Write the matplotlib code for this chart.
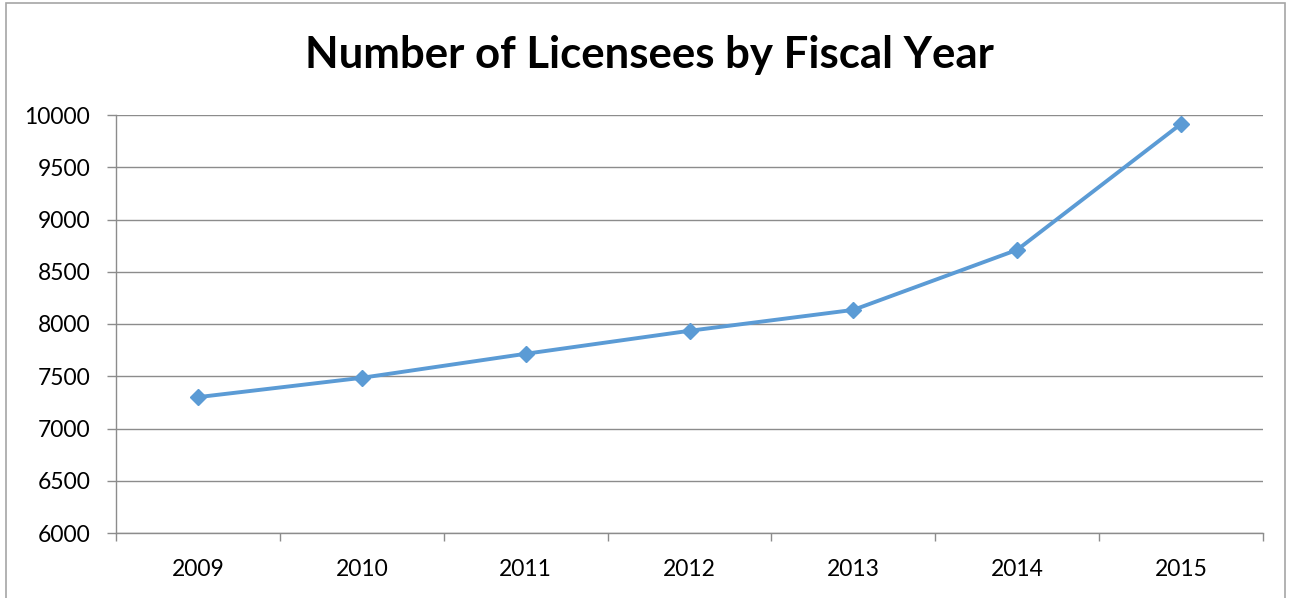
import matplotlib.pyplot as plt
from matplotlib.patches import Rectangle

plt.rcParams['font.family'] = ['Lato', 'DejaVu Sans']

# ── Veri ──────────────────────────────────────────────
years = ["2009", "2010", "2011", "2012", "2013", "2014", "2015"]
licensees = [7300, 7485, 7715, 7935, 8135, 8710, 9915]

W, H = 1292, 598
fig = plt.figure(figsize=(W / 100, H / 100), dpi=100)

# plot area in pixels: x 116..1263, y 115..533
ax = fig.add_axes([116 / W, 1 - 533 / H, (1263 - 116) / W, (533 - 115) / H])

x = list(range(len(years)))
ax.plot(x, licensees, color="#5B9BD5", lw=2.8, marker="D", markersize=8.5,
        markeredgecolor="#5B9BD5", clip_on=False, zorder=3)

ax.set_xlim(-0.5, len(years) - 0.5)
ax.set_ylim(6000, 10000)
ax.set_yticks(range(6000, 10001, 500))
ax.yaxis.grid(True, color="#8c8c8c", lw=1)
ax.set_axisbelow(True)

ax.set_xticks(x)
ax.set_xticklabels(years)
ax.set_xticks([i - 0.5 for i in range(len(years) + 1)], minor=True)
ax.tick_params(axis="x", which="major", length=0, pad=19, labelsize=16.5)
ax.tick_params(axis="x", which="minor", length=6, color="#8c8c8c", width=1)
ax.tick_params(axis="y", length=6.5, color="#8c8c8c", width=1, pad=12,
               labelsize=16.5)

for s in ["top", "right"]:
    ax.spines[s].set_visible(False)
for s in ["left", "bottom"]:
    ax.spines[s].set_color("#8c8c8c")
    ax.spines[s].set_linewidth(1)

fig.text(649 / W, 1 - 55 / H, "Number of Licensees by Fiscal Year",
         ha="center", va="center", fontsize=31.5, fontweight="bold")

# dış çerçeve
fig.patches.append(Rectangle((6 / W, -0.05), (1285 - 6) / W, 1.05 - 3 / H,
                             transform=fig.transFigure, fill=False,
                             edgecolor="#a6a6a6", lw=1.2))

fig.savefig("out.png", dpi=100)
